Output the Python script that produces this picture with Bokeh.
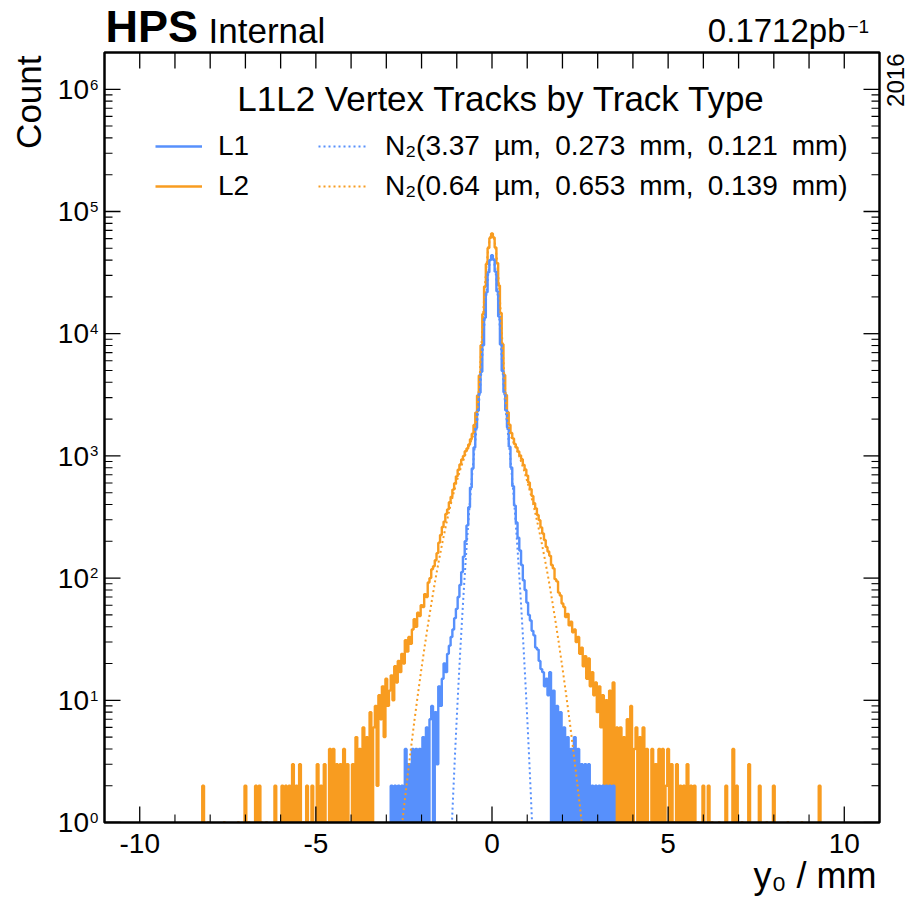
import numpy as np
from bokeh.plotting import figure
from bokeh.models import Range1d, Label, Legend, LegendItem, BoxAnnotation
from bokeh.embed import file_html
from bokeh.resources import INLINE

# ---------------- data ----------------
BIN_WIDTH = 0.05          # mm
L2_FIRST_CENTER = -8.30   # mm
L1_FIRST_CENTER = -2.90   # mm

# L2 track counts per bin, bin centres -8.30 ... 9.35 mm
l2_counts = [
    0, 0, 2, 0, 0, 1, 0, 0, 0, 0,
    0, 0, 0, 0, 1, 0, 0, 0, 0, 0,
    0, 0, 1, 0, 0, 0, 2, 0, 1, 0,
    0, 0, 2, 0, 2, 1, 0, 0, 1, 0,
    0, 0, 0, 2, 0, 1, 0, 2, 1, 2,
    0, 2, 1, 3, 0, 2, 1,
    3, 0, 1, 0, 2, 0, 1, 2, 0, 1,
    3, 0, 2, 0, 3, 1, 0, 4, 1, 4,
    0, 3, 1, 3, 0, 4, 0, 3, 1, 0,
    3, 0, 5, 1, 4, 0, 6, 1, 5, 0,
    8, 1, 6, 9,
    2, 11, 7, 13, 5, 15, 9, 12, 16, 10,
    19, 14, 21, 17, 24, 20, 31, 25, 33, 29,
    38, 46, 40, 52, 49, 60, 58, 74, 70, 92,
    100, 118, 125, 140, 160,
    195, 225, 262, 290, 335, 365, 418, 462, 530, 598,
    680, 770, 850, 935, 1000, 1090, 1150, 1240, 1370, 1520,
    1790, 2260, 3120, 4550, 8050, 14500, 24300, 37200, 50200, 60800,
    66000,
    61200, 50800, 37800, 24800, 14800, 8200, 4600, 3150, 2280, 1800,
    1540, 1390, 1250, 1170, 1085, 1010, 940, 845, 775, 690,
    605, 535, 470, 410, 372, 328, 298, 260, 232, 205,
    180, 165, 152, 128, 120, 98, 94, 76, 72, 62,
    58, 48, 51, 41, 44, 36, 38, 30, 33, 24,
    27, 19, 23, 15, 22, 13, 17, 11, 14, 8,
    13, 6, 11,
    0, 10, 1, 12, 0, 14, 1, 6, 0, 6,
    1, 5, 0, 7, 1, 9, 0, 4, 6, 0,
    5, 1, 6, 0, 4, 1, 0, 4, 1, 3,
    0, 4, 1, 4, 0, 2, 4, 0, 3, 1,
    0, 3, 0, 2, 1, 2, 0, 3, 1, 2,
    0, 2,
    0, 1, 0, 0, 2, 0, 0, 2, 0, 1,
    0, 0, 0, 1, 0, 0, 0, 2, 0, 0,
    0, 4, 0, 2, 0, 0, 1, 0, 0, 0,
    3, 0, 0, 0, 0, 0, 2, 0, 0, 0,
    1, 0, 0, 0, 2, 0, 0, 0, 0, 0,
    0, 0, 1, 0, 0, 0, 0, 0, 0, 0,
    1, 0, 0, 0, 0, 0, 0, 0, 0, 0,
    2, 0,
]

# L1 track counts per bin, bin centres -2.90 ... 3.50 mm
l1_counts = [
    0, 2, 0, 2, 1, 2, 0, 2, 1, 4,
    0, 3, 1, 4, 0, 4, 1, 4, 0, 5,
    1, 6, 0, 7, 9, 1, 8, 3,
    13, 9, 15, 20, 17, 24, 28, 33, 38, 47,
    56, 70, 88, 112, 150, 200, 270,
    380, 550, 790, 1170, 1690, 2340, 3290, 4880, 8050, 13500,
    21800, 31800, 40000, 43800, 40300, 32200, 22200, 13800, 8150, 4950,
    3320, 2360, 1710, 1190, 805, 565, 392,
    285, 214, 168, 128, 96, 80, 63, 50, 45, 37,
    34, 27, 26, 21, 18, 17, 13,
    15, 11, 17, 1, 12, 0, 9, 1, 8, 0,
    6, 0, 5, 1, 4, 0, 5, 1, 4, 0,
    3, 1, 3, 0, 3, 1, 2, 0, 2, 1,
    2, 0, 2, 1, 2, 0, 2, 1, 2, 0,
]

# double-Gaussian fit curves (dotted)
fit1_x = [-1.20, -1.15, -1.10, -1.05, -1.00, -0.95, -0.90, -0.85, -0.80, -0.75,
          -0.70, -0.65, -0.60, -0.55, -0.50, -0.45, -0.40, -0.35, -0.30, -0.25,
          -0.20, -0.15, -0.10, -0.05, 0.00, 0.05, 0.10, 0.15, 0.20, 0.25,
          0.30, 0.35, 0.40, 0.45, 0.50, 0.55, 0.60, 0.65, 0.70, 0.75,
          0.80, 0.85, 0.90, 0.95, 1.00, 1.05, 1.10, 1.15, 1.20]
fit1_y = [0.375, 0.82, 1.75, 3.61, 7.19, 13.8, 25.7, 46.0, 80.5, 135,
          220, 346, 527, 775, 1110, 1550, 2180, 3170, 4990, 8380,
          14200, 22700, 32500, 40700, 43900, 40700, 32500, 22700, 14200, 8380,
          4990, 3170, 2180, 1550, 1110, 775, 527, 346, 220, 135,
          80.5, 46.0, 25.7, 13.8, 7.19, 3.61, 1.75, 0.82, 0.375]

fit2_x = [-2.6, -2.5, -2.4, -2.3, -2.2, -2.1, -2.0, -1.9, -1.8, -1.7,
          -1.6, -1.5, -1.4, -1.3, -1.2, -1.1, -1.0, -0.9, -0.8, -0.7,
          -0.6, -0.55, -0.5, -0.45, -0.4, -0.35, -0.3, -0.25, -0.2, -0.15,
          -0.1, -0.05, 0.0, 0.05, 0.1, 0.15, 0.2, 0.25, 0.3, 0.35,
          0.4, 0.45, 0.5, 0.55, 0.6, 0.7, 0.8, 0.9, 1.0, 1.1,
          1.2, 1.3, 1.4, 1.5, 1.6, 1.7, 1.8, 1.9, 2.0, 2.1,
          2.2, 2.3, 2.4, 2.5, 2.6]
fit2_y = [0.72, 1.32, 2.34, 4.06, 6.9, 11.4, 18.4, 29.0, 44.8, 67.5,
          100, 143, 201, 276, 370, 484, 620, 774, 945, 1126,
          1310, 1420, 1590, 1920, 2670, 4420, 8000, 14560, 24600, 37700,
          51400, 62000, 66000, 62000, 51400, 37700, 24600, 14560, 8000, 4420,
          2670, 1920, 1590, 1420, 1310, 1126, 945, 774, 620, 484,
          370, 276, 201, 143, 100, 67.5, 44.8, 29.0, 18.4, 11.4,
          6.9, 4.06, 2.34, 1.32, 0.72]

series_labels = ["L1", "L2"]
fit_labels = ["N\u2082(3.37\u2002\u00b5m,\u20020.273\u2002mm,\u20020.121\u2002mm)",
              "N\u2082(0.64\u2002\u00b5m,\u20020.653\u2002mm,\u20020.139\u2002mm)"]
x_major_ticks = [-10, -5, 0, 5, 10]
x_minor_ticks = [-9, -8, -7, -6, -4, -3, -2, -1, 1, 2, 3, 4, 6, 7, 8, 9]
x_top_ticks = list(range(-10, 11))
y_tick_exps = [0, 1, 2, 3, 4, 5, 6]
y_major_ticks = [10.0 ** e for e in y_tick_exps]
y_minor_ticks = [m * 10.0 ** e for e in y_tick_exps for m in range(2, 10) if m * 10.0 ** e < 2e6]

# ---------------- style / layout ----------------
BLUE = "#5790fc"
ORANGE = "#f89c20"
FONT = "Liberation Sans"
W, H = 912, 897
FL, FR, FT, FB = 104, 879, 52, 822          # plot box in window pixels
XMIN, XMAX = -11.0, 11.0                    # axis limits of the box
YMIN, YMAX = 1.0, 2e6
PX_PER_X = (FR - FL) / (XMAX - XMIN)
PX_PER_DEC = (FB - FT) / (np.log10(YMAX) - np.log10(YMIN))
BASE_SHIFT = 0.35                           # renderer puts the baseline ~0.35 em low


def X(px):
    return XMIN + (px - FL) / PX_PER_X


def Y(py):
    return 10 ** (np.log10(YMIN) + (FB - py) / PX_PER_DEC)


# the frame covers the whole window, the box is drawn inside it
p = figure(width=W, height=H, x_range=Range1d(X(0), X(W)), y_range=Range1d(Y(H), Y(0)),
           y_axis_type="log", x_axis_location=None, y_axis_location=None,
           output_backend="svg", toolbar_location=None, min_border=0)
p.xgrid.visible = False
p.ygrid.visible = False
p.background_fill_color = "white"
p.border_fill_color = "white"
p.outline_line_color = None

# ---------------- histograms and fits ----------------
c2 = np.array(l2_counts, dtype=float)
x2 = L2_FIRST_CENTER + BIN_WIDTH * np.arange(len(c2))
y2 = np.where(c2 > 0, c2, 1e-3)      # empty bins drop below the log axis
c1 = np.array(l1_counts, dtype=float)
x1 = L1_FIRST_CENTER + BIN_WIDTH * np.arange(len(c1))
y1 = np.where(c1 > 0, c1, 1e-3)

r2 = p.step(x2, y2, mode="center", line_color=ORANGE, line_width=2.4)
r1 = p.step(x1, y1, mode="center", line_color=BLUE, line_width=2.4)
f1 = p.line(fit1_x, fit1_y, line_color=BLUE, line_width=2, line_dash="2 3")
f2 = p.line(fit2_x, fit2_y, line_color=ORANGE, line_width=2, line_dash="2 3")

# ---------------- ticks (inside the box, on all four sides) ----------------
MAJ, MIN_ = 16, 8
fy_maj = 10 ** (MAJ / PX_PER_DEC)
fy_min = 10 ** (MIN_ / PX_PER_DEC)
dx_maj = MAJ / PX_PER_X
dx_min = MIN_ / PX_PER_X
xm = np.array(x_major_ticks, float)
xn = np.array(x_minor_ticks, float)
xt = np.array(x_top_ticks, float)
ym = np.array(y_major_ticks)
yn = np.array(y_minor_ticks)
TK = dict(line_color="black")
p.segment(xm, YMIN, xm, YMIN * fy_maj, line_width=1.3, **TK)
p.segment(xn, YMIN, xn, YMIN * fy_min, line_width=1.1, **TK)
p.segment(xt, YMAX, xt, YMAX / fy_maj, line_width=1.3, **TK)
p.segment(XMIN, ym, XMIN + dx_maj, ym, line_width=1.3, **TK)
p.segment(XMIN, yn, XMIN + dx_min, yn, line_width=1.1, **TK)
p.segment(XMAX, ym, XMAX - dx_maj, ym, line_width=1.3, **TK)
p.segment(XMAX, yn, XMAX - dx_min, yn, line_width=1.1, **TK)

# mask below the box (empty bins / fit tails), then the box itself
p.add_layout(BoxAnnotation(top=YMIN, fill_color="white", fill_alpha=1.0, line_color=None))
p.add_layout(BoxAnnotation(left=XMIN, right=XMAX, bottom=YMIN, top=YMAX,
                           fill_alpha=0.0, line_color="black", line_alpha=1.0,
                           line_width=2.5))

# ---------------- legends ----------------
def make_legend(items, loc, gw, standoff):
    lg = Legend(items=items, location=loc, orientation="vertical")
    lg.border_line_color = None
    lg.background_fill_alpha = 0
    lg.padding = 0
    lg.margin = 0
    lg.spacing = 8
    lg.glyph_width = gw
    lg.glyph_height = 30
    lg.label_height = 30
    lg.label_standoff = standoff
    lg.label_text_font = FONT
    lg.label_text_font_size = "28px"
    lg.label_text_color = "black"
    return lg


leg_a = make_legend([LegendItem(label=series_labels[0], renderers=[r1]),
                     LegendItem(label=series_labels[1], renderers=[r2])],
                    (155, H - 202), 47, 16)
leg_b = make_legend([LegendItem(label=fit_labels[0], renderers=[f1]),
                     LegendItem(label=fit_labels[1], renderers=[f2])],
                    (318, H - 202), 49, 18)
p.add_layout(leg_a)
p.add_layout(leg_b)


def add_text(px, py, text, size, align="left", bold=False, angle=0.0):
    # (px, py): wanted baseline anchor in window pixels
    if angle == 0.0:
        py = py - BASE_SHIFT * size
    else:
        px = px - BASE_SHIFT * size
    p.add_layout(Label(x=X(px), y=Y(py), text=text, text_font=FONT,
                       text_font_size=f"{size}px", text_align=align,
                       text_baseline="alphabetic", text_color="black",
                       text_font_style="bold" if bold else "normal", angle=angle))


add_text(501, 110, "L1L2 Vertex Tracks by Track Type", 35, align="center")
add_text(105, 42, "HPS", 45, bold=True)
add_text(208, 42, "Internal", 35)
add_text(845, 42, "0.1712pb", 33, align="right")
add_text(847, 33, "\u22121", 19)
add_text(903, 53, "2016", 24, align="right", angle=np.pi / 2)
add_text(40, 55, "Count", 35, align="right", angle=np.pi / 2)
add_text(876, 888, "y\u2080 / mm", 36, align="right")

# x tick labels
for t in x_major_ticks:
    add_text(FL + (t - XMIN) * PX_PER_X, 853, str(t), 28, align="center")

# y tick labels 10^n
for e in y_tick_exps:
    ty = FB - e * PX_PER_DEC
    add_text(88.5, ty + 10, "10", 28, align="right")
    add_text(89.5, ty + 0.5, str(e), 15)

open("out.html", "w").write(file_html(p, INLINE))
